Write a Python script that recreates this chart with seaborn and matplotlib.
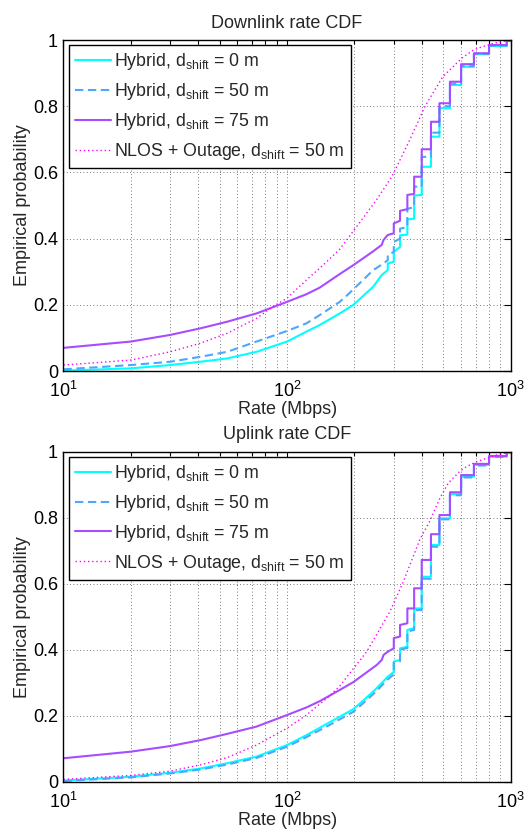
import matplotlib
matplotlib.use("Agg")
import matplotlib.pyplot as plt
import seaborn as sns
from matplotlib.ticker import FixedLocator, NullFormatter, LogLocator

# ---------------- data ----------------
DL_RATE_0 = [10, 20, 30, 41, 54, 73, 100, 122, 140, 172, 198, 243, 265, 282,
             282, 300, 300, 320, 320, 345, 345, 370, 370, 400, 400, 440, 440, 480, 480,
             535, 535, 600, 600, 685, 685, 800, 800, 960, 960, 1000]
DL_CDF_0 = [0.001, 0.008, 0.018, 0.028, 0.038, 0.058, 0.089, 0.119, 0.139, 0.174, 0.200, 0.255, 0.290, 0.305,
            0.325, 0.330, 0.360, 0.375, 0.410, 0.412, 0.458, 0.460, 0.530, 0.532, 0.617, 0.617, 0.708, 0.708, 0.794,
            0.794, 0.864, 0.864, 0.919, 0.919, 0.957, 0.957, 0.982, 0.982, 0.997, 0.998]

DL_RATE_50 = [10, 20, 30, 41, 54, 73, 100, 122, 140, 172, 185, 243, 270, 282,
              282, 300, 300, 320, 320, 345, 345, 370, 370, 400, 400, 440, 440, 480, 480,
              535, 535, 600, 600, 685, 685, 800, 800, 960, 960, 1000]
DL_CDF_50 = [0.005, 0.018, 0.028, 0.043, 0.058, 0.089, 0.121, 0.144, 0.169, 0.209, 0.228, 0.305, 0.325, 0.335,
             0.350, 0.360, 0.390, 0.400, 0.430, 0.435, 0.490, 0.495, 0.557, 0.557, 0.647, 0.647, 0.720, 0.720, 0.800,
             0.800, 0.868, 0.868, 0.921, 0.921, 0.958, 0.958, 0.983, 0.983, 0.997, 0.998]

DL_RATE_75 = [10, 20, 30, 41, 54, 73, 100, 122, 140, 172, 198, 243, 265, 270, 282,
              300, 300, 320, 320, 345, 345, 370, 370, 400, 400, 440, 440, 480, 480,
              535, 535, 600, 600, 685, 685, 800, 800, 960, 960, 1000]
DL_CDF_75 = [0.070, 0.089, 0.109, 0.129, 0.149, 0.174, 0.209, 0.232, 0.252, 0.293, 0.320, 0.362, 0.381, 0.396, 0.411,
             0.416, 0.446, 0.454, 0.484, 0.489, 0.532, 0.535, 0.587, 0.587, 0.670, 0.670, 0.753, 0.753, 0.809,
             0.809, 0.874, 0.874, 0.927, 0.927, 0.960, 0.960, 0.985, 0.985, 0.997, 0.998]

DL_RATE_NLOS = [10, 20, 30, 41, 54, 73, 86, 100, 122, 145, 172, 250, 294, 349, 367, 414, 497, 604, 681, 750, 836, 1000]
DL_CDF_NLOS = [0.018, 0.033, 0.058, 0.084, 0.114, 0.159, 0.194, 0.220, 0.275, 0.320, 0.368, 0.515, 0.587, 0.690,
               0.722, 0.800, 0.889, 0.945, 0.970, 0.980, 0.990, 1.000]

UL_RATE_0 = [10, 20, 30, 41, 54, 73, 100, 122, 155, 198, 219, 247, 282, 300,
             300, 320, 320, 345, 345, 370, 370, 400, 400, 440, 440, 480, 480,
             535, 535, 600, 600, 685, 685, 800, 800, 960, 960, 1000]
UL_CDF_0 = [0.003, 0.015, 0.027, 0.040, 0.056, 0.076, 0.111, 0.141, 0.180, 0.220, 0.246, 0.278, 0.318, 0.333,
            0.364, 0.369, 0.404, 0.409, 0.460, 0.465, 0.525, 0.525, 0.621, 0.621, 0.717, 0.717, 0.798,
            0.798, 0.871, 0.871, 0.924, 0.924, 0.960, 0.960, 0.985, 0.985, 0.997, 0.998]

UL_RATE_50 = [10, 20, 30, 41, 54, 73, 100, 122, 155, 198, 219, 247, 282, 300,
              300, 320, 320, 345, 345, 370, 370, 400, 400, 440, 440, 480, 480,
              535, 535, 600, 600, 685, 685, 800, 800, 960, 960, 1000]
UL_CDF_50 = [0.002, 0.013, 0.025, 0.037, 0.052, 0.072, 0.106, 0.135, 0.172, 0.212, 0.238, 0.270, 0.310, 0.325,
             0.360, 0.365, 0.400, 0.405, 0.455, 0.460, 0.520, 0.520, 0.615, 0.615, 0.712, 0.712, 0.795,
             0.795, 0.868, 0.868, 0.922, 0.922, 0.958, 0.958, 0.984, 0.984, 0.997, 0.998]

UL_RATE_75 = [10, 20, 30, 41, 54, 73, 100, 122, 140, 172, 198, 252, 265, 270, 282,
              300, 300, 320, 320, 345, 345, 370, 370, 400, 400, 440, 440, 480, 480,
              535, 535, 600, 600, 685, 685, 800, 800, 960, 960, 1000]
UL_CDF_75 = [0.071, 0.091, 0.108, 0.126, 0.145, 0.167, 0.202, 0.225, 0.244, 0.278, 0.302, 0.354, 0.369, 0.384, 0.394,
             0.404, 0.435, 0.440, 0.475, 0.480, 0.525, 0.525, 0.586, 0.586, 0.672, 0.672, 0.750, 0.750, 0.808,
             0.808, 0.877, 0.877, 0.929, 0.929, 0.963, 0.963, 0.987, 0.987, 0.998, 0.999]

UL_RATE_NLOS = [10, 20, 30, 41, 54, 73, 100, 122, 155, 172, 227, 288, 331, 393, 435, 483, 526, 591, 635, 705, 865, 1000]
UL_CDF_NLOS = [0.007, 0.019, 0.032, 0.051, 0.073, 0.111, 0.162, 0.202, 0.260, 0.290, 0.394, 0.515, 0.606, 0.735,
               0.790, 0.860, 0.905, 0.940, 0.955, 0.970, 0.990, 1.000]

LABELS = [r"Hybrid, d$_{\mathrm{shift}}$ = 0 m",
          r"Hybrid, d$_{\mathrm{shift}}$ = 50 m",
          r"Hybrid, d$_{\mathrm{shift}}$ = 75 m",
          r"NLOS + Outage, d$_{\mathrm{shift}}$ = 50 m"]
TITLES = ["Downlink rate CDF", "Uplink rate CDF"]
Y_TICKS = [0, 0.2, 0.4, 0.6, 0.8, 1]
Y_TICKLABELS = ["0", "0.2", "0.4", "0.6", "0.8", "1"]
X_TICKS = [10, 100, 1000]
X_TICKLABELS = [r"$10^{1}$", r"$10^{2}$", r"$10^{3}$"]

# ---------------- style ----------------
sns.set_style("white")
plt.rcParams["font.family"] = ["Liberation Sans", "DejaVu Sans"]
plt.rcParams["mathtext.fontset"] = "custom"
plt.rcParams["mathtext.rm"] = "Liberation Sans"
plt.rcParams["mathtext.it"] = "Liberation Sans:italic"
plt.rcParams["mathtext.bf"] = "Liberation Sans:bold"
plt.rcParams["mathtext.default"] = "regular"

COLORS = ["#00FFFF", "#4DA6FF", "#A64DFF", "#FF00FF"]
STYLES = [dict(linestyle="-", linewidth=1.5),
          dict(linestyle=(0, (4, 2.2)), linewidth=1.5),
          dict(linestyle="-", linewidth=1.5),
          dict(linestyle=(0, (1, 2.0)), linewidth=1.0)]

fig = plt.figure(figsize=(5.29, 8.30), dpi=100)
ax1 = fig.add_axes([0.1200, 0.5530, 0.8454, 0.3988])
ax2 = fig.add_axes([0.1200, 0.0582, 0.8454, 0.3976])

panels = [
    (ax1, [(DL_RATE_0, DL_CDF_0), (DL_RATE_50, DL_CDF_50), (DL_RATE_75, DL_CDF_75), (DL_RATE_NLOS, DL_CDF_NLOS)]),
    (ax2, [(UL_RATE_0, UL_CDF_0), (UL_RATE_50, UL_CDF_50), (UL_RATE_75, UL_CDF_75), (UL_RATE_NLOS, UL_CDF_NLOS)]),
]

for (ax, series), title in zip(panels, TITLES):
    for (r, c), lab, col, st in zip(series, LABELS, COLORS, STYLES):
        sns.lineplot(x=r, y=c, ax=ax, sort=False, estimator=None, color=col, label=lab, **st)
    ax.set_xscale("log")
    ax.set_xlim(10, 1000)
    ax.set_ylim(0, 1)
    ax.xaxis.set_major_locator(FixedLocator(X_TICKS))
    ax.set_xticklabels(X_TICKLABELS)
    ax.xaxis.set_minor_locator(LogLocator(base=10, subs=range(2, 10)))
    ax.xaxis.set_minor_formatter(NullFormatter())
    ax.set_yticks(Y_TICKS)
    ax.set_yticklabels(Y_TICKLABELS)
    ax.tick_params(which="both", direction="in", top=True, right=True, labelsize=13,
                   colors="black", width=0.8)
    ax.tick_params(which="major", length=5)
    ax.tick_params(axis="x", which="major", pad=7)
    ax.tick_params(axis="y", which="major", pad=4)
    ax.tick_params(which="minor", length=3)
    ax.grid(True, which="major", axis="both", linestyle=(0, (1, 3)), color="0.3", linewidth=0.6)
    ax.grid(True, which="minor", axis="x", linestyle=(0, (1, 3)), color="0.3", linewidth=0.6)
    ax.set_axisbelow(True)
    for sp in ax.spines.values():
        sp.set_color("black")
        sp.set_linewidth(1.0)
    ax.set_xlabel("Rate (Mbps)", fontsize=13, labelpad=0)
    ax.set_ylabel("Empirical probability", fontsize=13, labelpad=1)
    ax.set_title(title, fontsize=13, pad=9)
    leg = ax.legend(loc="upper left", bbox_to_anchor=(5.5 / 447.2, 1 - 5 / 331), borderaxespad=0,
                    fontsize=12.8, frameon=True, fancybox=False, framealpha=1, edgecolor="black",
                    handlelength=2.0, handletextpad=0.2, labelspacing=0.5, borderpad=0.35)
    leg.get_frame().set_linewidth(1.0)

fig.savefig("out.png", dpi=100)
